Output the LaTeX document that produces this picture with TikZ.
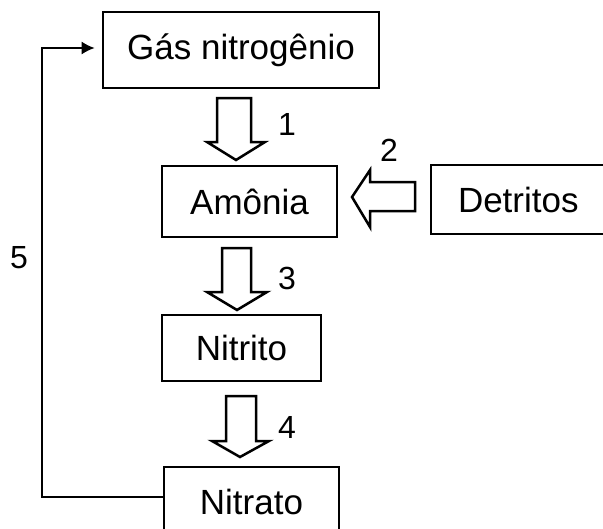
\documentclass[tikz,border=0pt]{standalone}
\usepackage{fontspec}
\setmainfont{Liberation Sans}
\usetikzlibrary{arrows.meta}
\begin{document}
\begin{tikzpicture}[x=1pt,y=-1pt,
  box/.style={draw,line width=2.8pt,inner sep=0pt,font=\fontsize{35}{38}\selectfont},
  blockarrow/.style={draw,line width=2.5pt,line join=miter,fill=white},
  numlabel/.style={font=\fontsize{32}{35}\selectfont,inner sep=0pt},
  feedback/.style={line width=1.5pt,-{Latex[length=13pt,width=13pt]}}]
\useasboundingbox (0,0) rectangle (603,528);
\clip (0,0) rectangle (603,528);
% boxes
\node[box,minimum width=276pt,minimum height=76pt] (gas) at (241,50) {Gás nitrogênio};
\node[box,minimum width=175pt,minimum height=71pt] (amonia) at (249.5,201.5) {Amônia};
\node[box,minimum width=178pt,minimum height=69pt,text width=178pt,align=left] (detritos) at (520,199.5) {\hspace*{27pt}Detritos};
\node[box,minimum width=159pt,minimum height=66pt] (nitrito) at (241.5,348) {Nitrito};
\node[box,minimum width=175pt,minimum height=70pt] (nitrato) at (251.5,502) {Nitrato};
% block arrows
\draw[blockarrow] (217,98) -- (251,98) -- (251,142) -- (265,142) -- (236,160) -- (207,142) -- (217,142) -- cycle;
\draw[blockarrow] (415,182) -- (415,211) -- (370,211) -- (370,227) -- (352,197) -- (370,170) -- (370,182) -- cycle;
\draw[blockarrow] (222,248) -- (251,248) -- (251,292) -- (267,292) -- (237,310) -- (207,292) -- (222,292) -- cycle;
\draw[blockarrow] (226,396) -- (256,396) -- (256,441) -- (269,441) -- (240,457) -- (212,441) -- (226,441) -- cycle;
% labels
\node[numlabel] (l1) at (287,124) {1};
\node[numlabel] (l2) at (389,150) {2};
\node[numlabel] (l3) at (287,278) {3};
\node[numlabel] (l4) at (287,427) {4};
\node[numlabel] (l5) at (19,258) {5};
% feedback line
\coordinate (c5) at (42,48);
\draw[feedback,shorten >=7pt] ([yshift=5pt]nitrato.west) -| (c5) -- (c5 -| gas.west);
\end{tikzpicture}
\end{document}
